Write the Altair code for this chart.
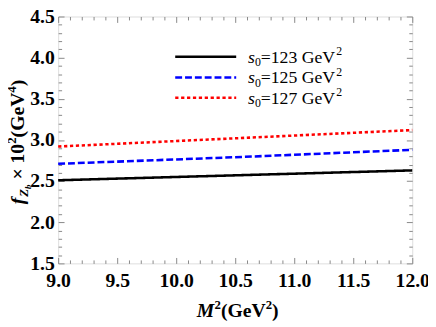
import altair as alt
import pandas as pd
import numpy as np

# ---- data ----
m2 = [9.0, 10.5, 12.0]
f_123 = [2.51, 2.57, 2.63]
f_125 = [2.71, 2.79, 2.88]
f_127 = [2.92, 3.02, 3.12]
series_names = ["s0=123", "s0=125", "s0=127"]
legend_numbers = ["123", "125", "127"]
colors = ["#000000", "#0000ff", "#ff0000"]
dashes = [[1, 0], [7, 3], [3.3, 2.7]]
x_major = [9.0, 9.5, 10.0, 10.5, 11.0, 11.5, 12.0]
y_major = [1.5, 2.0, 2.5, 3.0, 3.5, 4.0, 4.5]
x_minor = [round(v, 1) for v in np.arange(9.0, 12.0001, 0.1)]
y_minor = [round(v, 1) for v in np.arange(1.5, 4.5001, 0.1)]

rows = []
for name, vals in zip(series_names, [f_123, f_125, f_127]):
    for xv, yv in zip(m2, vals):
        rows.append({"M2": xv, "f": yv, "series": name})
df = pd.DataFrame(rows)

W, H = 360, 251
TOP = 14 - 8
SERIF = "Liberation Serif"
FRAME = "#888888"

xscale = alt.Scale(domain=[9, 12], nice=False, zero=False)
yscale = alt.Scale(domain=[1.5, 4.5], nice=False, zero=False)
major_test = "abs(datum.value*2 - round(datum.value*2)) < 0.01"
tick_len = {"condition": {"test": major_test, "value": 6}, "value": 3.5}

common_tick_axis = dict(labels=False, title=None, domain=False, grid=False,
                        ticks=True, tickColor=FRAME, tickWidth=1, tickSize=tick_len)

color_scale = alt.Scale(domain=series_names, range=colors)
dash_scale = alt.Scale(domain=series_names, range=dashes)

lines = alt.Chart(df).mark_line(strokeWidth=2.6).encode(
    x=alt.X("M2:Q", scale=xscale,
            axis=alt.Axis(values=x_major, format=".1f", title=None, domain=False, grid=False,
                          ticks=False, tickSize=0, labelPadding=8, labelFont=SERIF,
                          labelFontSize=20, labelFontWeight="bold", labelColor="black",
                          labelFlush=False)),
    y=alt.Y("f:Q", scale=yscale,
            axis=alt.Axis(values=y_major, format=".1f", title=None, domain=False, grid=False,
                          ticks=False, tickSize=0, labelPadding=4, labelFont=SERIF,
                          labelFontSize=20, labelFontWeight="bold", labelColor="black",
                          labelFlush=False)),
    color=alt.Color("series:N", scale=color_scale, legend=None),
    strokeDash=alt.StrokeDash("series:N", scale=dash_scale, legend=None),
    detail="series:N",
)

ticks_a = alt.Chart(df).mark_line(opacity=0).encode(
    x=alt.X("M2:Q", scale=xscale, axis=alt.Axis(orient="top", offset=-H, values=x_minor, **common_tick_axis)),
    y=alt.Y("f:Q", scale=yscale, axis=alt.Axis(orient="right", offset=-W, values=y_minor, **common_tick_axis)),
    detail="series:N",
)
ticks_b = alt.Chart(df).mark_line(opacity=0).encode(
    x=alt.X("M2:Q", scale=xscale, axis=alt.Axis(orient="bottom", offset=-H, values=x_minor, **common_tick_axis)),
    y=alt.Y("f:Q", scale=yscale, axis=alt.Axis(orient="left", offset=-W, values=y_minor, **common_tick_axis)),
    detail="series:N",
)


def txt(s, x, y, size, italic=False, bold=True, angle=0):
    return alt.Chart(pd.DataFrame({"t": [s]})).mark_text(
        align="left", baseline="alphabetic", font=SERIF, fontSize=size,
        fontStyle="italic" if italic else "normal",
        fontWeight="bold" if bold else "normal", angle=angle, color="black",
    ).encode(x=alt.value(x), y=alt.value(y), text="t:N")


# y-axis title pieces (rotated), plot-relative positions
yx = -35
ytitle = [
    txt("f", yx, 191, 20, italic=True, angle=270),
    txt("Z", yx + 4, 183.3, 13, italic=True, angle=270),
    txt("b", yx + 7, 175.3, 9, italic=True, angle=270),
    txt("\u00d7 10", yx, 165.8, 20, angle=270),
    txt("2", yx - 8, 129.4, 13, angle=270),
    txt("(GeV", yx, 122.9, 20, angle=270),
    txt("4", yx - 8, 77.4, 13, angle=270),
    txt(")", yx, 70.9, 20, angle=270),
]

# x-axis title pieces
xb = 305
xtitle = [
    txt("M", 141, xb, 20, italic=True),
    txt("2", 159, xb - 8, 13),
    txt("(GeV", 165.5, xb, 20),
    txt("2", 211, xb - 8, 13),
    txt(")", 217.5, xb, 20),
]

# legend
leg_rows = [41, 62, 82.7]
legend_layers = []
for i, num in enumerate(legend_numbers):
    ry = leg_rows[i]
    legend_layers.append(
        alt.Chart(pd.DataFrame({"series": [series_names[i]]})).mark_rule(strokeWidth=2.6).encode(
            x=alt.value(119), x2=alt.value(181), y=alt.value(ry),
            color=alt.Color("series:N", scale=color_scale, legend=None),
            strokeDash=alt.StrokeDash("series:N", scale=dash_scale, legend=None),
        )
    )
    by = ry + 6
    legend_layers += [
        txt("s", 193, by, 18, italic=True, bold=False),
        txt("0", 200, by + 3.5, 12, bold=False),
        txt("=" + num + " GeV", 206, by, 18, bold=False),
        txt("2", 282.6, by - 7.5, 12, bold=False),
    ]

chart = alt.layer(lines, ticks_a, ticks_b, *ytitle, *xtitle, *legend_layers).resolve_axis(
    x="independent", y="independent"
).properties(
    width=W, height=H,
    autosize=alt.AutoSizeParams(type="none"),
    padding={"left": 51, "top": TOP, "right": 16, "bottom": 60},
).configure_view(stroke=FRAME, strokeWidth=1).configure(background="white")

chart.save("out.html", embed_options={"renderer": "svg", "actions": False})
